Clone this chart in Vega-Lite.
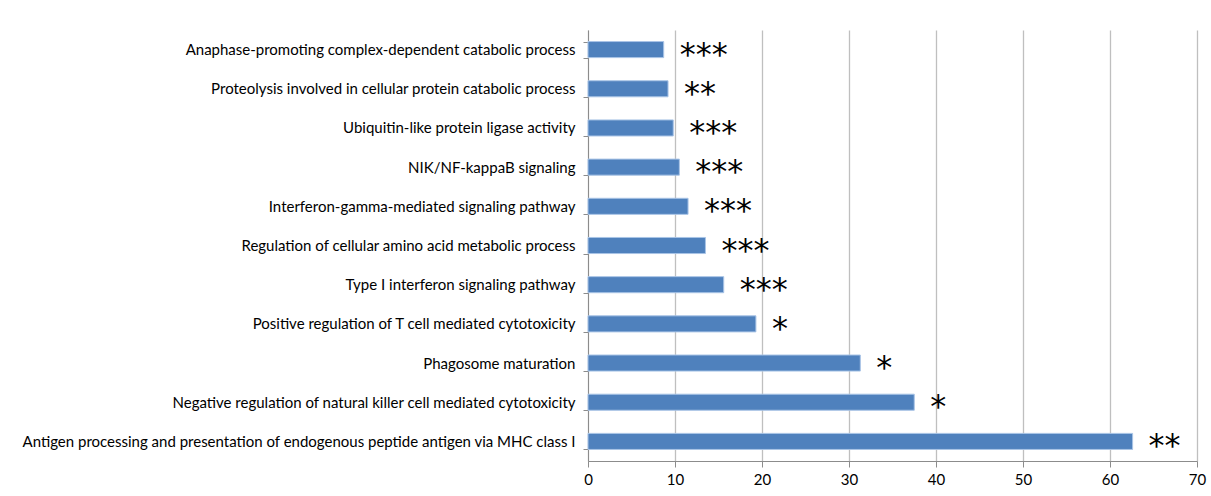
{
  "$schema": "https://vega.github.io/schema/vega-lite/v6.json",
  "autosize": {"type": "none"},
  "width": 609,
  "height": 431,
  "padding": {"left": 588, "top": 30, "right": 14, "bottom": 35},
  "background": "white",
  "config": {
    "view": {"stroke": null},
    "font": "Lato",
    "axis": {"labelFont": "Lato", "labelColor": "#000000", "domainColor": "#8c8c8c", "tickColor": "#8c8c8c", "gridColor": "#bfbfbf", "gridWidth": 1.3}
  },
  "data": {
    "values": [
      {"term": "Anaphase-promoting complex-dependent catabolic process", "value": 8.7, "sig": "***"},
      {"term": "Proteolysis involved in cellular protein catabolic process", "value": 9.2, "sig": "**"},
      {"term": "Ubiquitin-like protein ligase activity", "value": 9.8, "sig": "***"},
      {"term": "NIK/NF-kappaB signaling", "value": 10.5, "sig": "***"},
      {"term": "Interferon-gamma-mediated signaling pathway", "value": 11.5, "sig": "***"},
      {"term": "Regulation of cellular amino acid metabolic process", "value": 13.5, "sig": "***"},
      {"term": "Type I interferon signaling pathway", "value": 15.6, "sig": "***"},
      {"term": "Positive regulation of T cell mediated cytotoxicity", "value": 19.3, "sig": "*"},
      {"term": "Phagosome maturation", "value": 31.3, "sig": "*"},
      {"term": "Negative regulation of natural killer cell mediated cytotoxicity", "value": 37.5, "sig": "*"},
      {"term": "Antigen processing and presentation of endogenous peptide antigen via MHC class I", "value": 62.6, "sig": "**"}
    ]
  },
  "encoding": {
    "y": {
      "field": "term", "type": "nominal", "sort": null, "title": null,
      "scale": {"paddingInner": 0.59, "paddingOuter": 0.295},
      "axis": {"tickBand": "extent", "tickSize": 5, "labelFontSize": 15, "labelPadding": 8, "labelLimit": 0, "grid": false}
    },
    "x": {
      "field": "value", "type": "quantitative", "title": null,
      "scale": {"domain": [0, 70], "nice": false},
      "axis": {"values": [0, 10, 20, 30, 40, 50, 60, 70], "tickSize": 6, "labelFontSize": 15, "labelPadding": 5, "grid": true, "labelFlush": false}
    }
  },
  "layer": [
    {"mark": {"type": "bar", "color": "#4f81bd", "stroke": "#a9c4e6", "strokeWidth": 1}},
    {"mark": {"type": "text", "align": "left", "baseline": "middle", "dx": 16, "dy": 5, "fontSize": 32, "font": "DejaVu Sans", "color": "#000000"}, "encoding": {"text": {"field": "sig"}}}
  ]
}
